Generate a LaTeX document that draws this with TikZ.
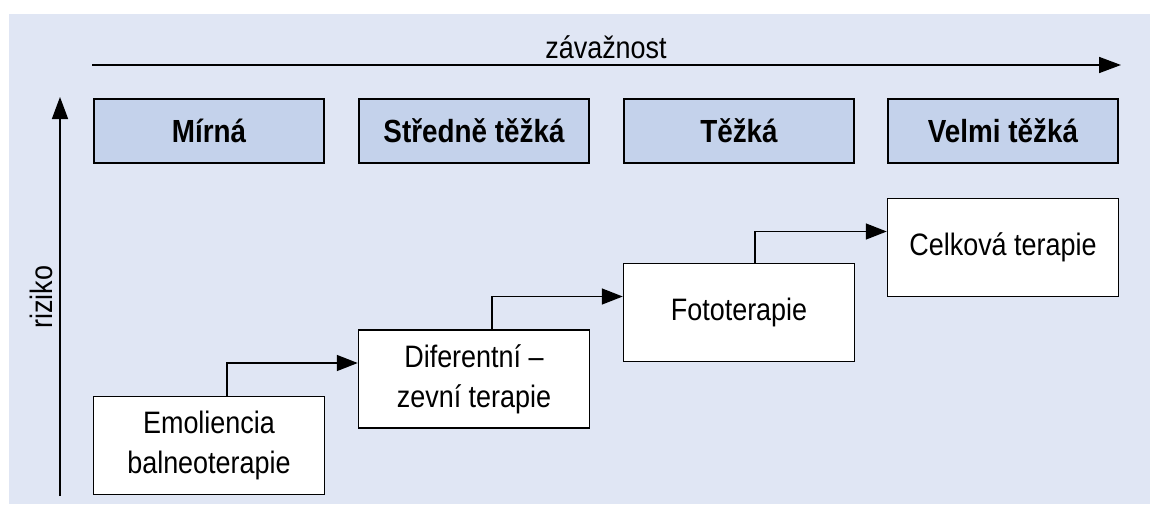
\documentclass[tikz,border=0pt]{standalone}
\usepackage{fontspec}
\setmainfont{Liberation Sans}[FakeStretch=0.87]
\usepackage{tikz}
\usetikzlibrary{arrows.meta}
\definecolor{bgB}{RGB}{224,230,244}
\definecolor{hdB}{RGB}{196,210,235}

\begin{document}
\begin{tikzpicture}[
  x=1pt,y=-1pt,
  hdr/.style={rectangle,draw,fill=hdB,line width=1.5pt,minimum width=230pt,minimum height=64pt,inner sep=0pt,font=\fontsize{32}{38}\selectfont\bfseries},
  thr/.style={rectangle,draw,fill=white,line width=1.5pt,minimum width=231pt,minimum height=98pt,inner sep=0pt,align=center,font=\fontsize{31}{40}\selectfont},
  axis/.style={-{Triangle[length=22pt,width=16pt]},line width=1.6pt},
  conn/.style={-{Triangle[length=21pt,width=16pt]},line width=1.6pt},
  lbl/.style={font=\fontsize{31}{37}\selectfont}
]
  \useasboundingbox (0,0) rectangle (1150,504);
  \fill[bgB] (9,14) rectangle (1150,504);
  % ---------------- AXES ----------------
  \coordinate (xs) at (92,65); \coordinate (xe) at (1121,65);
  \coordinate (ys) at (60,496); \coordinate (ye) at (60,97);
  \draw[axis] (xs) -- (xe);
  \draw[axis] (ys) -- (ye);
  \node[lbl,anchor=base] (sev) at (606,58) {závažnost};
  \node[lbl,rotate=90,anchor=base] (risk) at (52,297) {riziko};
  % ---------------- SEVERITY ----------------
  \foreach \id/\x/\txt in {1/209/Mírná,2/474/Středně těžká,3/739/Těžká,4/1003/Velmi těžká}{
    \node[hdr] (h\id) at (\x,131) {\txt};}
  % ---------------- THERAPY ----------------
  \node[thr] (emo) at (209,445.5) {Emoliencia\\balneoterapie};
  \node[thr] (dif) at (474,379) {Diferentní –\\zevní terapie};
  \node[thr] (foto) at (739,312.5) {Fototerapie};
  \node[thr] (celk) at (1003,247.5) {Celková terapie};
  \draw[conn] ([xshift=18pt]emo.north) |- ([yshift=16pt]dif.west);
  \draw[conn] ([xshift=18pt]dif.north) |- ([yshift=16pt]foto.west);
  \draw[conn] ([xshift=16pt]foto.north) |- ([yshift=16pt]celk.west);
\end{tikzpicture}
\end{document}
